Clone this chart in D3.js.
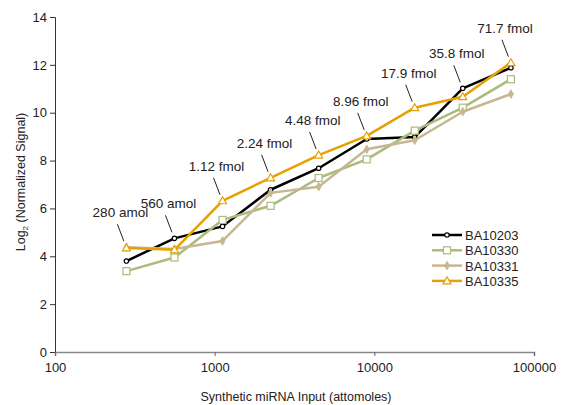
<!DOCTYPE html>
<html>
<head>
<meta charset="utf-8">
<script src="https://cdn.jsdelivr.net/npm/d3@7"></script>
<style>
  body { margin: 0; background: #fff; }
  text { font-family: "Liberation Sans Narrow", "Arial Narrow", "Liberation Sans", sans-serif; fill: #222; }
</style>
</head>
<body>
<script>
// input amounts (attomoles) and their labels
var inputs = [280, 560, 1120, 2240, 4480, 8960, 17900, 35800, 71700];
var inputLabels = ["280 amol", "560 amol", "1.12 fmol", "2.24 fmol", "4.48 fmol", "8.96 fmol", "17.9 fmol", "35.8 fmol", "71.7 fmol"];

// log2 normalized signal per array
var ba10203 = [3.80, 4.75, 5.25, 6.78, 7.68, 8.90, 8.98, 11.02, 11.88];
var ba10330 = [3.38, 3.95, 5.52, 6.11, 7.27, 8.05, 9.25, 10.21, 11.40];
var ba10331 = [4.38, 4.30, 4.64, 6.65, 6.91, 8.47, 8.85, 10.04, 10.78];
var ba10335 = [4.35, 4.27, 6.32, 7.28, 8.23, 9.03, 10.21, 10.67, 12.09];

var seriesNames = ["BA10203", "BA10330", "BA10331", "BA10335"];
var xTicks = [100, 1000, 10000, 100000];
var yTicks = [0, 2, 4, 6, 8, 10, 12, 14];

var series = [
  {name: seriesNames[0], values: ba10203, color: "#000000", marker: "circle"},
  {name: seriesNames[1], values: ba10330, color: "#a9bc7c", marker: "square"},
  {name: seriesNames[2], values: ba10331, color: "#c8b690", marker: "diamond"},
  {name: seriesNames[3], values: ba10335, color: "#e6a100", marker: "triangle"}
];

var w = 579, h = 405;
var margin = {top: 17, right: 45, bottom: 53, left: 55};

var svg = d3.select("body").append("svg")
  .attr("width", w)
  .attr("height", h);

var xScale = d3.scaleLog()
  .domain([100, 100000])
  .range([margin.left, w - margin.right]);

var yScale = d3.scaleLinear()
  .domain([0, 14])
  .range([h - margin.bottom, margin.top]);

// axes
var yAxis = d3.axisLeft(yScale).tickValues(yTicks).tickSize(5).tickFormat(d3.format("d"));
var gy = svg.append("g")
  .attr("transform", "translate(" + margin.left + ",0)")
  .call(yAxis);
gy.select(".domain").attr("stroke", "#333").attr("stroke-width", 1);
gy.selectAll(".tick line").attr("stroke", "#333");
gy.selectAll(".tick text").attr("x", -8).style("font-size", "13px");

var xAxis = d3.axisBottom(xScale).tickValues(xTicks).tickSize(4).tickFormat(d3.format("d"));
var gx = svg.append("g")
  .attr("transform", "translate(0," + (h - margin.bottom) + ")")
  .call(xAxis);
gx.select(".domain").attr("stroke", "#888").attr("stroke-width", 1.5);
gx.selectAll(".tick line").attr("stroke", "#666");
gx.selectAll(".tick text").attr("y", 11).style("font-size", "13px");

// axis titles
svg.append("text")
  .attr("x", 296)
  .attr("y", 401)
  .style("text-anchor", "middle")
  .style("font-size", "12.5px")
  .text("Synthetic miRNA Input (attomoles)");

var yTitle = svg.append("text")
  .attr("transform", "translate(25," + 182 + ") rotate(-90)")
  .style("text-anchor", "middle")
  .style("font-size", "12.5px");
yTitle.append("tspan").text("Log");
yTitle.append("tspan").attr("dy", 3).style("font-size", "8px").text("2");
yTitle.append("tspan").attr("dy", -3).text(" (Normalized Signal)");

// lines
var line = d3.line()
  .x(function(d, i) { return xScale(inputs[i]); })
  .y(function(d) { return yScale(d); });

function drawMarker(g, type, color, x, y) {
  if (type == "circle") {
    g.append("circle").attr("cx", x).attr("cy", y).attr("r", 2.2)
      .attr("fill", "#fff").attr("stroke", color).attr("stroke-width", 1.2);
  } else if (type == "square") {
    g.append("rect").attr("x", x - 3.5).attr("y", y - 3.5).attr("width", 7).attr("height", 7)
      .attr("fill", "#fff").attr("stroke", color).attr("stroke-width", 1.2);
  } else if (type == "diamond") {
    g.append("path").attr("d", d3.symbol(d3.symbolDiamond, 22)())
      .attr("transform", "translate(" + x + "," + y + ")")
      .attr("fill", color).attr("stroke", color).attr("stroke-width", 0.8);
  } else {
    g.append("path").attr("d", "M" + x + "," + (y - 4) + "L" + (x + 4) + "," + (y + 3) + "L" + (x - 4) + "," + (y + 3) + "Z")
      .attr("fill", "#fff").attr("stroke", color).attr("stroke-width", 1.2);
  }
}

series.forEach(function(s) {
  var g = svg.append("g");
  g.append("path")
    .datum(s.values)
    .attr("d", line)
    .attr("fill", "none")
    .attr("stroke", s.color)
    .attr("stroke-width", 2.5)
    .attr("stroke-linejoin", "round");
  s.values.forEach(function(v, i) {
    drawMarker(g, s.marker, s.color, xScale(inputs[i]), yScale(v));
  });
});

// annotations above the highest point at each input
inputs.forEach(function(x, i) {
  var top = d3.max(series, function(s) { return s.values[i]; });
  var px = xScale(x);
  var py = yScale(top);
  var base = py - 30;
  svg.append("line")
    .attr("x1", px - 9).attr("y1", base + 7)
    .attr("x2", px - 2.5).attr("y2", py - 6)
    .attr("stroke", "#222").attr("stroke-width", 1);
  svg.append("text")
    .attr("x", px - 6)
    .attr("y", base)
    .style("text-anchor", "middle")
    .style("font-size", "13.5px")
    .text(inputLabels[i]);
});

// legend
var legend = svg.append("g").attr("transform", "translate(432,235)");
series.forEach(function(s, i) {
  var row = legend.append("g").attr("transform", "translate(0," + (i * 15.3) + ")");
  row.append("line").attr("x1", 0).attr("x2", 30).attr("y1", 0).attr("y2", 0)
    .attr("stroke", s.color).attr("stroke-width", 2.5);
  drawMarker(row, s.marker, s.color, 15, 0);
  row.append("text")
    .attr("x", 33)
    .attr("y", 5)
    .style("font-size", "13px")
    .text(s.name);
});
</script>
</body>
</html>
